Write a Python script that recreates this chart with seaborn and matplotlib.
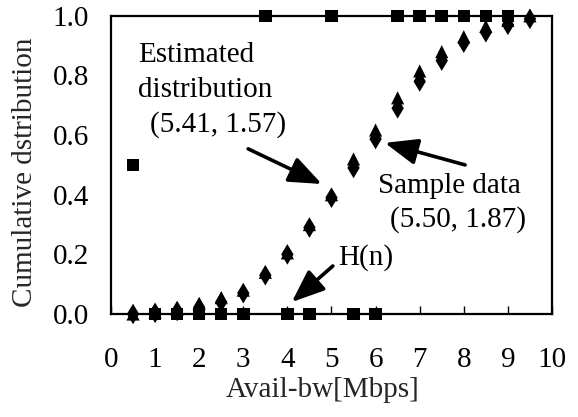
import matplotlib
matplotlib.use("Agg")
import matplotlib.pyplot as plt
import seaborn as sns
import pandas as pd

# ---- data ----
x_vals = [0.5, 1.0, 1.5, 2.0, 2.5, 3.0, 3.5, 4.0, 4.5, 5.0,
          5.5, 6.0, 6.5, 7.0, 7.5, 8.0, 8.5, 9.0, 9.5]
# diamonds (sample data)
sample_cdf = [0.000, 0.004, 0.010, 0.022, 0.040, 0.070, 0.130, 0.200, 0.290, 0.390,
              0.490, 0.587, 0.690, 0.780, 0.850, 0.910, 0.945, 0.970, 0.990]
# triangles (estimated distribution)
est_cdf = [0.000, 0.006, 0.015, 0.035, 0.055, 0.080, 0.140, 0.205, 0.300, 0.400,
           0.520, 0.617, 0.725, 0.815, 0.880, 0.930, 0.965, 0.985, 1.000]
# squares H(n)
hn_x = [0.5, 1.0, 1.5, 2.0, 2.5, 3.0, 3.5, 4.0, 4.5, 5.0,
        5.5, 6.0, 6.5, 7.0, 7.5, 8.0, 8.5, 9.0]
hn_y = [0.5, 0.0, 0.0, 0.0, 0.0, 0.0, 1.0, 0.0, 0.0, 1.0,
        0.0, 0.0, 1.0, 1.0, 1.0, 1.0, 1.0, 1.0]

x_ticks = [0, 1, 2, 3, 4, 5, 6, 7, 8, 9, 10]
y_ticks = [0.0, 0.2, 0.4, 0.6, 0.8, 1.0]
x_label = "Avail-bw[Mbps]"
y_label = "Cumulative dstribution"

sns.set_style("ticks")
plt.rcParams["font.family"] = ["Liberation Serif", "DejaVu Serif"]
FS = 21

fig = plt.figure(figsize=(5.78, 4.17), dpi=100)
ax = fig.add_axes([0.192, 0.247, 0.763, 0.715])

df_s = pd.DataFrame({"x": x_vals, "y": sample_cdf})
df_e = pd.DataFrame({"x": x_vals, "y": est_cdf})
df_h = pd.DataFrame({"x": hn_x, "y": hn_y})

sns.scatterplot(data=df_s, x="x", y="y", ax=ax, marker="d", s=110,
                color="black", edgecolor="none", clip_on=False, zorder=3)
sns.scatterplot(data=df_e, x="x", y="y", ax=ax, marker="^", s=90,
                color="black", edgecolor="none", clip_on=False, zorder=4)
sns.scatterplot(data=df_h, x="x", y="y", ax=ax, marker="s", s=81,
                color="black", edgecolor="none", clip_on=False, zorder=5)

ax.set_xlim(0, 10)
ax.set_ylim(0, 1)
ax.set_xticks(x_ticks)
ax.set_xticklabels([str(t) for t in x_ticks])
ax.set_yticks(y_ticks)
ax.set_yticklabels([f"{t:.1f}" for t in y_ticks])
ax.tick_params(axis="x", direction="in", length=6, width=1, pad=24,
               labelsize=FS, colors="black")
ax.tick_params(axis="y", length=0, pad=16, labelsize=FS, colors="black")
for sp in ax.spines.values():
    sp.set_visible(True)
    sp.set_linewidth(1.6)
    sp.set_color("black")

ax.set_xlabel(x_label, fontsize=FS)
ax.set_ylabel(y_label, fontsize=FS)
ax.xaxis.set_label_coords(0.48, -0.211)
ax.yaxis.set_label_coords(-0.166, 0.477)

# annotations
txt_kw = dict(fontsize=FS, ha="left", va="baseline", color="black")
ax.text(0.61, 0.846, "Estimated", **txt_kw)
ax.text(0.61, 0.728, "distribution", **txt_kw)
ax.text(0.88, 0.611, "(5.41, 1.57)", **txt_kw)
ax.text(6.05, 0.406, "Sample data", **txt_kw)
ax.text(6.33, 0.292, "(5.50, 1.87)", **txt_kw)
ax.text(5.15, 0.164, "H(n)", **txt_kw)

arr = dict(arrowstyle="-|>,head_length=1.0,head_width=0.4", lw=2.6,
           color="black", mutation_scale=20, shrinkA=0, shrinkB=0)
ax.annotate("", xy=(4.78, 0.436), xytext=(3.11, 0.554), arrowprops=arr)
ax.annotate("", xy=(6.21, 0.574), xytext=(8.03, 0.50), arrowprops=arr)
ax.annotate("", xy=(4.10, 0.040), xytext=(5.03, 0.161), arrowprops=arr)

fig.savefig("out.png", dpi=100)
